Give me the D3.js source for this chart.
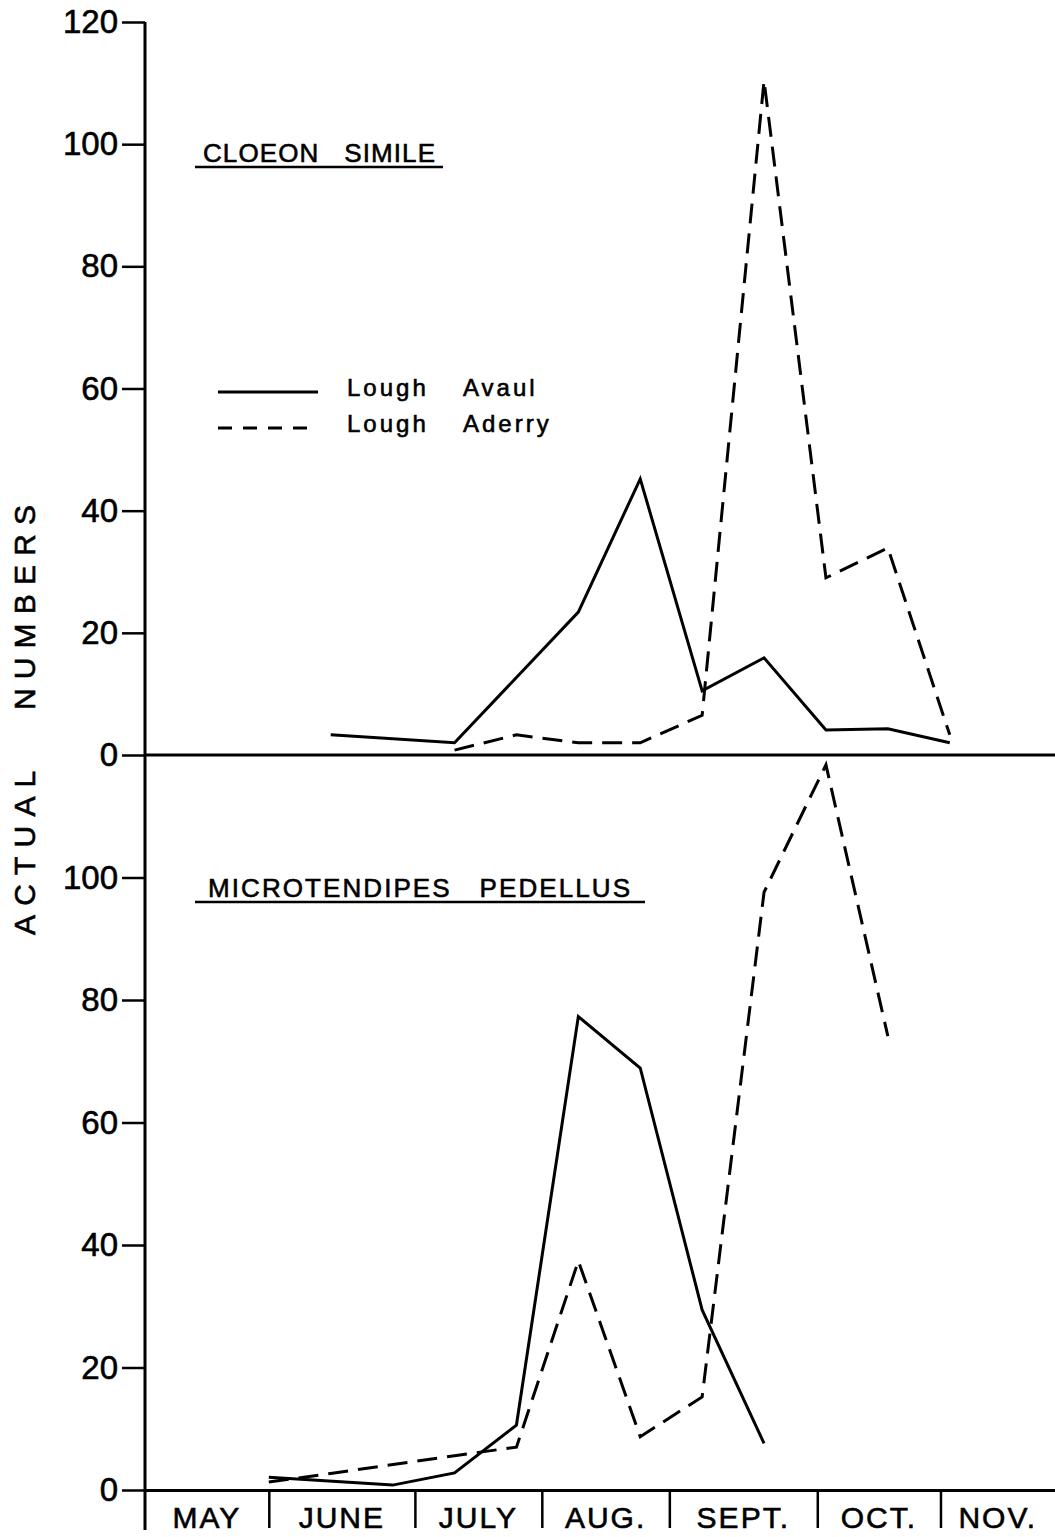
<!DOCTYPE html>
<html>
<head>
<meta charset="utf-8">
<script src="https://cdn.jsdelivr.net/npm/d3@7"></script>
<style>
  body { margin: 0; background: #fff; }
  svg { display: block; }
  text { fill: #000; stroke: #000; stroke-width: 0.6px; }
</style>
</head>
<body>
<svg width="1055" height="1537"></svg>
<script>
// sampling occasions, roughly fortnightly, numbered from the first June sample
const samples = [0, 1, 2, 3, 4, 5, 6, 7, 8, 9, 10, 11];

// Cloeon simile
const cloeonAvaul  = [null, 3.3, null, 2.0, null, 23.4, 45.2, 10.5, 15.9, 4.1, 4.3, 2.0];
const cloeonAderry = [null, null, null, 0.8, 3.3, 2.0, 2.0, 6.5, 110.4, 29.0, 33.9, 3.3];

// Microtendipes pedellus
const microAvaul  = [2.1, null, 0.8, 2.8, 10.6, 77.3, 68.9, 29.4, 7.6, null, null, null];
const microAderry = [1.3, 2.7, null, 5.6, 7.0, 37.4, 8.7, 15.2, 97.6, 118.4, 74.1, null];

const months = ["MAY", "JUNE", "JULY", "AUG.", "SEPT.", "OCT.", "NOV."];
const monthStarts = [-2, 0, 2.36, 4.41, 6.47, 8.86, 10.85, 12.7];

const topTicks = [0, 20, 40, 60, 80, 100, 120];
const bottomTicks = [0, 20, 40, 60, 80, 100];

const svg = d3.select("svg");
const axisX = 145,
      right = 1055;

const x = d3.scaleLinear().domain([-2, 12.7]).range([axisX, right]);
const yTop = d3.scaleLinear().domain([0, 120]).range([755, 22]);
const yBot = d3.scaleLinear().domain([0, 120]).range([1490, 755]);

const font = "'Liberation Sans', Arial, sans-serif";

// y axes (ticks + labels), one per panel
function yAxis(scale, ticks) {
  const g = svg.append("g")
    .attr("transform", "translate(" + axisX + ",0)")
    .call(d3.axisLeft(scale).tickValues(ticks).tickSize(23).tickPadding(4));
  g.select(".domain").remove();
  g.selectAll(".tick line").attr("stroke", "#000").attr("stroke-width", 2.5);
  g.selectAll(".tick text")
    .attr("font-family", "'Liberation Sans Narrow', " + font)
    .attr("font-size", 33)
    .attr("fill", "#000");
  return g;
}
yAxis(yTop, topTicks);
yAxis(yBot, bottomTicks);

// main vertical axis runs through both panels down past the month axis
svg.append("line")
  .attr("x1", axisX).attr("x2", axisX)
  .attr("y1", yTop(120)).attr("y2", 1530)
  .attr("stroke", "#000").attr("stroke-width", 3);

// zero line of the upper panel
svg.append("line")
  .attr("x1", axisX).attr("x2", right)
  .attr("y1", yTop(0)).attr("y2", yTop(0))
  .attr("stroke", "#000").attr("stroke-width", 3);

// month axis at the bottom
const xa = svg.append("g")
  .attr("transform", "translate(0," + yBot(0) + ")")
  .call(d3.axisBottom(x).tickValues(monthStarts.slice(1, 7)).tickSize(38).tickSizeOuter(0).tickFormat(""));
xa.select(".domain").attr("stroke", "#000").attr("stroke-width", 3);
xa.selectAll(".tick line").attr("stroke", "#000").attr("stroke-width", 2.5);

svg.append("g").selectAll("text")
  .data(months)
  .join("text")
  .attr("x", (d, i) => (x(monthStarts[i]) + x(monthStarts[i + 1])) / 2)
  .attr("y", 1528)
  .attr("text-anchor", "middle")
  .attr("font-family", font)
  .attr("font-size", 30)
  .attr("letter-spacing", 2)
  .text(d => d);

// y label
svg.append("text")
  .attr("transform", "rotate(-90)")
  .attr("x", -720)
  .attr("y", 35)
  .attr("text-anchor", "middle")
  .attr("font-family", font)
  .attr("font-size", 30)
  .attr("textLength", 430)
  .attr("lengthAdjust", "spacing")
  .attr("xml:space", "preserve")
  .text("ACTUAL   NUMBERS");

// series
const dash = "20,10";
function drawSeries(values, scale, dashed) {
  const pts = samples.map((s, i) => [s, values[i]]).filter(d => d[1] != null);
  svg.append("path")
    .datum(pts)
    .attr("fill", "none")
    .attr("stroke", "#000")
    .attr("stroke-width", 3)
    .attr("stroke-linejoin", "miter")
    .attr("stroke-dasharray", dashed ? dash : null)
    .attr("d", d3.line().x(d => x(d[0])).y(d => scale(d[1])));
}
drawSeries(cloeonAvaul, yTop, false);
drawSeries(cloeonAderry, yTop, true);
drawSeries(microAvaul, yBot, false);
drawSeries(microAderry, yBot, true);

// panel titles, underlined
function title(txt, x0, x1, base, ulx0, ulx1) {
  svg.append("text")
    .attr("x", x0).attr("y", base)
    .attr("font-family", font)
    .attr("font-size", 26)
    .attr("textLength", x1 - x0)
    .attr("lengthAdjust", "spacing")
    .attr("xml:space", "preserve")
    .text(txt);
  svg.append("line")
    .attr("x1", ulx0).attr("x2", ulx1)
    .attr("y1", base + 5).attr("y2", base + 5)
    .attr("stroke", "#000").attr("stroke-width", 2.5);
}
title("CLOEON   SIMILE", 203, 435, 162, 195, 443);
title("MICROTENDIPES   PEDELLUS", 208, 630, 897, 195, 645);

// legend
const legend = [
  { name: "Avaul", dashed: false, y: 392 },
  { name: "Aderry", dashed: true, y: 428 }
];
legend.forEach(d => {
  svg.append("line")
    .attr("x1", 218).attr("x2", 318)
    .attr("y1", d.y).attr("y2", d.y)
    .attr("stroke", "#000").attr("stroke-width", 3)
    .attr("stroke-dasharray", d.dashed ? "14,11" : null);
  const t = svg.append("text")
    .attr("y", d.y + 4)
    .attr("font-family", font)
    .attr("font-size", 24)
    .attr("letter-spacing", 3);
  t.append("tspan").attr("x", 347).text("Lough");
  t.append("tspan").attr("x", 463).text(d.name);
});
</script>
</body>
</html>
